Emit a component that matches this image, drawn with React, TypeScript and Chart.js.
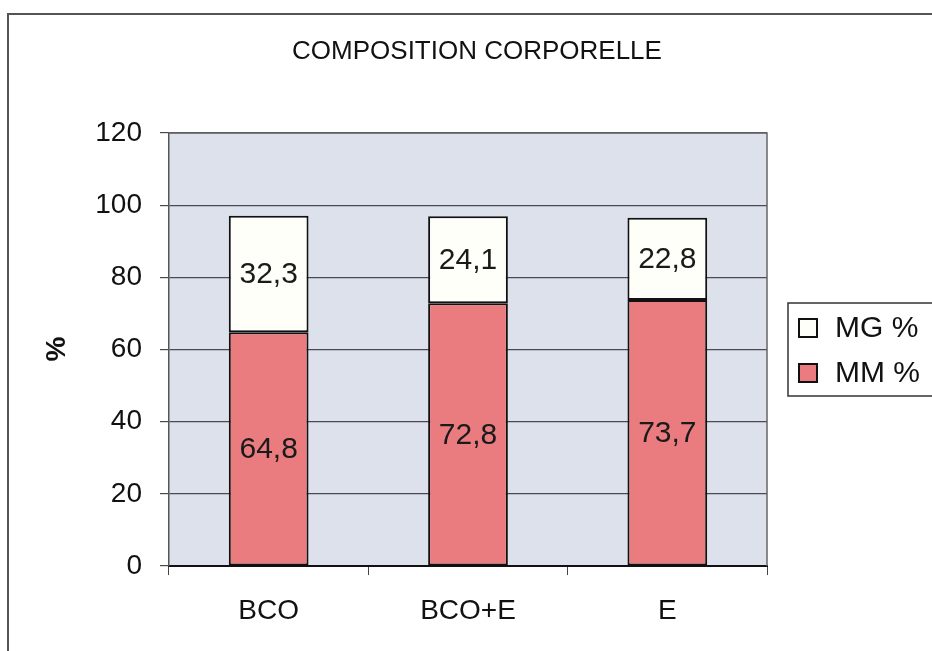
import React, { useEffect, useRef } from "react";
import { Chart, registerables } from "chart.js";

Chart.register(...registerables);

const categories = ["BCO", "BCO+E", "E"];
const mmValues = [64.8, 72.8, 73.7];
const mgValues = [32.3, 24.1, 22.8];
const seriesNames = ["MM %", "MG %"];
const chartTitle = "COMPOSITION CORPORELLE";
const yTitle = "%";

const FONT = "'Liberation Sans', Arial, sans-serif";
const RED = "#ea7c80";
const WHITE = "#fffffa";
const PLOT_BG = "#dce1ec";

const fmt = (v: number) => v.toFixed(1).replace(".", ",");

export default function App() {
  const ref = useRef<HTMLCanvasElement | null>(null);

  useEffect(() => {
    if (!ref.current) return;
    const decor = {
      id: "decor",
      beforeDraw(chart: any) {
        const { ctx, chartArea: a } = chart;
        ctx.save();
        ctx.fillStyle = "#ffffff";
        ctx.fillRect(0, 0, chart.width, chart.height);
        ctx.fillStyle = PLOT_BG;
        ctx.fillRect(a.left, a.top, a.right - a.left, a.bottom - a.top);
        ctx.strokeStyle = "#555";
        ctx.lineWidth = 2;
        ctx.strokeRect(8, 14, 960, 700);
        ctx.restore();
      },
      afterDraw(chart: any) {
        const { ctx, chartArea: a } = chart;
        ctx.save();
        ctx.strokeStyle = "#666";
        ctx.lineWidth = 1.5;
        ctx.beginPath();
        ctx.moveTo(a.left, a.top);
        ctx.lineTo(a.right, a.top);
        ctx.lineTo(a.right, a.bottom);
        ctx.stroke();
        // title
        ctx.fillStyle = "#111";
        ctx.font = `26px ${FONT}`;
        ctx.textAlign = "center";
        ctx.textBaseline = "middle";
        ctx.fillText(chartTitle, 477, 52);
        // y title
        ctx.save();
        ctx.translate(57, 349);
        ctx.rotate(-Math.PI / 2);
        ctx.font = `bold 28px ${FONT}`;
        ctx.fillText(yTitle, 0, 0);
        ctx.restore();
        // legend
        ctx.strokeStyle = "#333";
        ctx.lineWidth = 1.5;
        ctx.fillStyle = "#fff";
        ctx.fillRect(788, 303, 150, 93);
        ctx.strokeRect(788, 303, 150, 93);
        const items = [
          { name: seriesNames[1], color: WHITE, y: 328 },
          { name: seriesNames[0], color: RED, y: 373 },
        ];
        ctx.textAlign = "left";
        ctx.font = `30px ${FONT}`;
        for (const it of items) {
          ctx.fillStyle = it.color;
          ctx.fillRect(799, it.y - 9, 18, 18);
          ctx.strokeStyle = "#111";
          ctx.lineWidth = 2;
          ctx.strokeRect(799, it.y - 9, 18, 18);
          ctx.fillStyle = "#111";
          ctx.fillText(it.name, 835, it.y + 1);
        }
        ctx.restore();
      },
      afterDatasetsDraw(chart: any) {
        const { ctx } = chart;
        ctx.save();
        ctx.font = `30px ${FONT}`;
        ctx.fillStyle = "#1a1a1a";
        ctx.textAlign = "center";
        ctx.textBaseline = "middle";
        chart.data.datasets.forEach((ds: any, di: number) => {
          const meta = chart.getDatasetMeta(di);
          meta.data.forEach((el: any, i: number) => {
            const v = ds.data[i];
            ctx.fillText(fmt(v), el.x, (el.y + el.base) / 2 + 1);
          });
        });
        ctx.restore();
      },
    };

    const chart = new Chart(ref.current, {
      type: "bar",
      data: {
        labels: categories,
        datasets: [
          {
            label: seriesNames[0],
            data: mmValues,
            backgroundColor: RED,
            borderColor: "#111",
            borderWidth: 2,
            borderSkipped: false,
            barPercentage: 0.4,
            categoryPercentage: 1,
          },
          {
            label: seriesNames[1],
            data: mgValues,
            backgroundColor: WHITE,
            borderColor: "#111",
            borderWidth: 2,
            borderSkipped: false,
            barPercentage: 0.4,
            categoryPercentage: 1,
          },
        ],
      },
      options: {
        animation: false,
        responsive: false,
        maintainAspectRatio: false,
        layout: { padding: { left: 0, right: 165, top: 133, bottom: 0 } },
        plugins: {
          legend: { display: false },
          title: { display: false },
          tooltip: { enabled: false },
        },
        scales: {
          x: {
            stacked: true,
            afterFit: (s: any) => {
              s.height = 85;
            },
            grid: {
              offset: true,
              drawOnChartArea: false,
              drawTicks: true,
              tickLength: 9,
              color: "#444",
            },
            border: { display: true, color: "#111", width: 2 },
            ticks: {
              color: "#111",
              font: { family: FONT, size: 28 },
              padding: 19,
            },
          },
          y: {
            stacked: true,
            min: 0,
            max: 120,
            afterFit: (s: any) => {
              s.width = 169;
            },
            grid: {
              color: "#4a4a55",
              lineWidth: 1.2,
              tickLength: 9,
            },
            border: { display: true, color: "#555", width: 1.5 },
            ticks: {
              stepSize: 20,
              color: "#111",
              font: { family: FONT, size: 28 },
              padding: 18,
            },
          },
        },
      },
      plugins: [decor],
    });
    return () => chart.destroy();
  }, []);

  return (
    <div style={{ position: "fixed", left: 0, top: 0, width: 932, height: 651 }}>
      <canvas ref={ref} width={932} height={651} style={{ display: "block" }} />
    </div>
  );
}
